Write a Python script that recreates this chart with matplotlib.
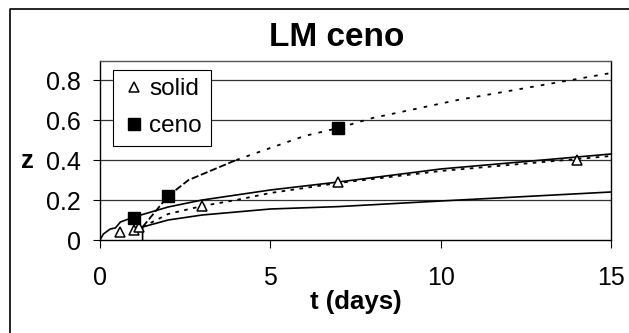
import matplotlib
matplotlib.use("Agg")
import matplotlib.pyplot as plt
from matplotlib.lines import Line2D

plt.rcParams['font.family'] = ['Liberation Sans', 'DejaVu Sans']

# measured points
solid_t = [0.6, 1.0, 1.15, 3, 7, 14]
solid_z = [0.04, 0.05, 0.065, 0.17, 0.29, 0.40]
ceno_t = [1, 2, 7]
ceno_z = [0.11, 0.22, 0.56]

# model curves
upper_t = [0, 0.1, 0.3, 0.45, 0.6, 1, 2, 3, 5, 7, 10, 12, 15]
upper_z = [0, 0.03, 0.055, 0.06, 0.09, 0.115, 0.165, 0.2, 0.25, 0.29, 0.355, 0.385, 0.43]
lower_t = [1.25, 1.25, 2, 3, 5, 7, 10, 15]
lower_z = [0, 0.065, 0.1, 0.125, 0.155, 0.167, 0.195, 0.24]
solid_fit_t = [1.25, 2, 3, 4, 5, 7, 10, 12, 15]
solid_fit_z = [0.065, 0.13, 0.17, 0.2, 0.235, 0.285, 0.345, 0.375, 0.42]
ceno_early_t = [1.25, 2, 2.6, 4]
ceno_early_z = [0.065, 0.22, 0.30, 0.40]
ceno_late_t = [4, 6, 7, 8, 10.5, 13.5, 15]
ceno_late_z = [0.40, 0.52, 0.56, 0.61, 0.70, 0.79, 0.835]

fig = plt.figure(figsize=(6.29, 3.33), dpi=100)
ax = fig.add_axes([100/629, 1-240/333, 511/629, 179/333])

for y in [0.2, 0.4, 0.6, 0.8]:
    ax.axhline(y, color='#333333', lw=0.9, zorder=0)

ax.plot(upper_t, upper_z, color='black', lw=1.2)
ax.plot(lower_t, lower_z, color='black', lw=1.2)
ax.plot(solid_fit_t, solid_fit_z, color='black', lw=1.3, ls=(0, (2, 3)))
ax.plot(ceno_early_t, ceno_early_z, color='black', lw=1.3, ls=(0, (4, 1.5)))
ax.plot(ceno_late_t, ceno_late_z, color='black', lw=1.3, ls=(0, (2, 4)))

ax.plot(solid_t, solid_z, ls='none', marker='^', ms=7, mfc='white', mec='black', mew=1.1, label='solid')
ax.plot(ceno_t, ceno_z, ls='none', marker='s', ms=8, mfc='black', mec='black', label='ceno')

ax.set_xlim(0, 15)
ax.set_ylim(0, 0.895)
ax.set_xticks([0, 5, 10, 15])
ax.set_yticks([0, 0.2, 0.4, 0.6, 0.8])
ax.set_yticklabels(['0', '0.2', '0.4', '0.6', '0.8'])
ax.tick_params(axis='y', direction='out', length=5, pad=9, labelsize=18)
ax.tick_params(axis='x', direction='out', length=6, pad=13, labelsize=18)
for s in ax.spines.values():
    s.set_color('black')
    s.set_linewidth(1.0)
ax.spines['top'].set_color('#555555')

fig.text(356/629, 1-302/333, 't (days)', fontsize=18.5, fontweight='bold', ha='center', va='center')
fig.text(27/629, 1-161/333, 'z', fontsize=18.5, fontweight='bold', ha='center', va='center')
fig.text(337/629, 1-38/333, 'LM ceno', fontsize=24, fontweight='bold', ha='center', va='center')

leg = ax.legend(loc='upper left', bbox_to_anchor=(0.0254, 0.95), fontsize=17.5,
                frameon=True, fancybox=False, edgecolor='black', framealpha=1,
                handlelength=1.0, handletextpad=0.15, labelspacing=0.6,
                borderpad=0.35, borderaxespad=0)
leg.get_frame().set_linewidth(0.8)

fig.add_artist(Line2D([10/629, 10/629, 1.0], [0, 1-9/333, 1-9/333],
                      color='black', lw=1.2, transform=fig.transFigure))

fig.savefig('out.png', dpi=100)
